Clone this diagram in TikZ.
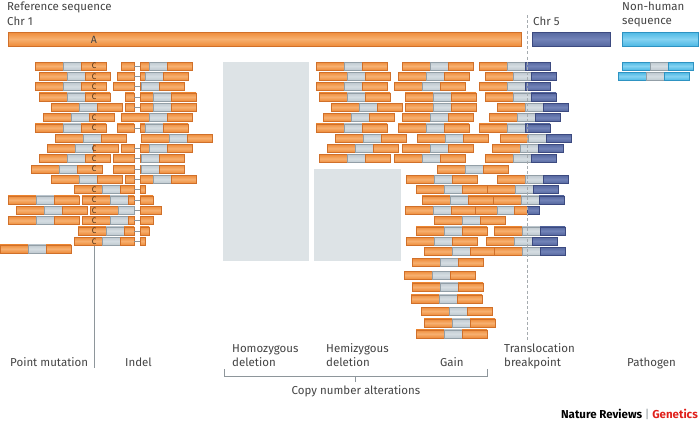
\documentclass[tikz,border=0pt]{standalone}
\usepackage{fontspec}
\setmainfont{Fira Sans}
\definecolor{orT}{HTML}{EE8C3A}
\definecolor{orM}{HTML}{F7B070}
\definecolor{orD}{HTML}{D0702A}
\definecolor{gyT}{HTML}{BFC9D0}
\definecolor{gyM}{HTML}{D5DDE2}
\definecolor{gyD}{HTML}{939FA7}
\definecolor{blT}{HTML}{5668A0}
\definecolor{blM}{HTML}{7283B8}
\definecolor{blD}{HTML}{3C4A80}
\definecolor{cyT}{HTML}{4DB8E4}
\definecolor{cyM}{HTML}{85D3F2}
\definecolor{cyD}{HTML}{2E93C2}
\definecolor{boxc}{HTML}{DDE3E6}
\definecolor{txt}{HTML}{444444}
\definecolor{ngred}{HTML}{E0201B}
\definecolor{cC}{HTML}{4A3018}
\definecolor{lnc}{HTML}{8E969B}
% segment: row, from x, to x, style
\newcommand\sg[4]{\path[#4] ({#2},{62+10.3*(#1)}) rectangle ({#3},{70+10.3*(#1)});}
\newcommand\rdx[4]{\sg{#1}{#2}{#2+28}{#3}\sg{#1}{#2+28}{#2+46}{gry}\sg{#1}{#2+46}{#2+71}{#4}}
\newcommand\rd[2]{\rdx{#1}{#2}{ora}{ora}}
\newcommand\rdt[2]{\rdx{#1}{#2}{ora}{blu}}
\newcommand\rdp[2]{\rdx{#1}{#2}{cya}{cya}}
\newcommand\gp[1]{\draw[con] (134,{66+10.3*(#1)}) -- (140,{66+10.3*(#1)});}
\newcommand\rdA[2]{\sg{#1}{#2}{134}{ora}\sg{#1}{140}{#2+28}{ora}\sg{#1}{#2+28}{#2+46}{gry}\sg{#1}{#2+46}{#2+71}{ora}\gp{#1}}
\newcommand\rdB[2]{\sg{#1}{#2}{#2+28}{ora}\sg{#1}{#2+28}{#2+46}{gry}\sg{#1}{#2+46}{134}{ora}\sg{#1}{140}{#2+71}{ora}\gp{#1}}
\newcommand\cc[1]{\node[cl] (c#1) at (94,{66.2+10.3*(#1)}) {C};}
\begin{document}
\begin{tikzpicture}[x=1pt,y=-1pt,
  ora/.style={draw=orD,line width=0.5pt,top color=orT,bottom color=orT,middle color=orM},
  gry/.style={draw=gyD,line width=0.5pt,top color=gyT,bottom color=gyT,middle color=gyM},
  blu/.style={draw=blD,line width=0.5pt,top color=blT,bottom color=blT,middle color=blM},
  cya/.style={draw=cyD,line width=0.5pt,top color=cyT,bottom color=cyT,middle color=cyM},
  con/.style={draw=lnc,line width=0.5pt},
  cl/.style={inner sep=0pt,text=cC,font=\fontsize{8}{8}\selectfont},
  lbl/.style={inner sep=0pt,text=txt,font=\fontsize{11.5}{13}\selectfont},
  brk/.style={draw=lnc,line width=0.6pt},
  dsh/.style={draw=lnc!80,line width=0.9pt,dash pattern=on 3pt off 2.2pt}]
\useasboundingbox[fill=white] (0,0) rectangle (700,426);
% deletion regions
\path[fill=boxc] (223,62) rectangle (309,261);
\path[fill=boxc] (314,169) rectangle (401,261);
% reference bars
\path[ora] (8,32) rectangle (521,46);
\path[blu] (532,32) rectangle (610,46);
\path[cya] (622,32) rectangle (698,46);
\node[inner sep=0pt,text=txt,font=\fontsize{10.5}{11}\selectfont] (A) at (94,39.5) {A};
% point mutation column
\rd{0}{35}\rd{1}{39}\rd{2}{35}\rd{3}{39}\rd{4}{51}\rd{5}{43}\rd{6}{35}\rd{7}{55}
\rd{8}{47}\rd{9}{39}\rd{10}{31}\rd{11}{51}
\rdB{12}{74}
\rd{13}{8}\rdB{13}{82}
\rd{14}{16}\sg{14}{90}{118}{ora}\sg{14}{118}{134}{gry}\sg{14}{140}{161}{ora}\gp{14}
\rd{15}{8}\rdB{15}{82}
\rdB{16}{78}\rdB{17}{74}
\rd{17.75}{0}
% indel column
\rdA{0}{121}\rdA{1}{117}\rdA{2}{113}\rdA{3}{125}\rdA{4}{125}\rd{5}{121}\rdA{6}{117}
\rd{7}{141}\rdA{8}{121}\rdA{9}{113}\rdA{10}{113}\rdA{11}{125}
% C marks
\cc{0}\cc{1}\cc{2}\cc{3}\cc{5}\cc{6}\cc{8}\cc{9}\cc{10}\cc{12}\cc{13}\cc{14}\cc{15}\cc{16}\cc{17}
% hemizygous column
\rd{0}{316}\rd{1}{319}\rd{2}{316}\rd{3}{319}\rd{4}{331}\rd{5}{323}\rd{6}{316}\rd{7}{335}\rd{8}{327}\rd{9}{319}
% gain column
\rd{0}{402}\rd{1}{398}\rd{2}{394}\rd{3}{405}\rd{4}{405}\rd{5}{402}\rd{6}{398}\rd{7}{417}
\rd{8}{402}\rd{9}{394}\rd{10}{437}\rd{11}{406}\rd{12}{416}\rd{13}{422}\rd{14}{405}\rd{15}{434}
\rd{16}{416}\rd{17}{406}\rd{18}{424}
\rd{19.1}{412}\rd{20.3}{404}\rd{21.45}{412}\rd{22.6}{411}\rd{23.8}{421}\rd{24.95}{424}\rd{26}{416}
% translocation column
\rdt{0}{479}\rdt{1}{485}\rdt{2}{479}\rdt{3}{485}\rdt{4}{497}\rdt{5}{489}\rdt{6}{479}
\rdt{7}{500}\rdt{8}{492}\rdt{9}{485}\rdt{11}{497}\rdt{12}{487}\rdt{13}{493}
\sg{14}{475}{497}{ora}\sg{14}{497}{514}{gry}\sg{14}{514}{527}{ora}\sg{14}{527}{539}{blu}
\rdt{16}{494}\rdt{17}{486}\rdt{18}{494}
% pathogen
\rdp{0}{622}\rdp{1}{618}
% breakpoint line
\coordinate (bpT) at (527,15);
\coordinate (bpB) at (527,340);
\draw[dsh] (bpT) -- (bpB);
% point mutation pointer
\coordinate (pmT) at (94,245.5);
\coordinate (pmB) at (94,368);
\draw[con,line width=0.6pt] (pmT) -- (pmB);
% top labels
\node[lbl,anchor=base west] (refseq) at (7,10.5) {Reference sequence};
\node[lbl,anchor=base west] (chr1) at (7,25) {Chr 1};
\node[lbl,anchor=base west] (chr5) at (533,25) {Chr 5};
\node[lbl,anchor=base west] (nh1) at (622,10.5) {Non-human};
\node[lbl,anchor=base west] (nh2) at (622,24.5) {sequence};
% bottom labels
\node[lbl,anchor=base west] (pm) at (10,366) {Point mutation};
\node[lbl,anchor=base west] (ind) at (125,366) {Indel};
\node[lbl,anchor=base west] (ho1) at (232,352) {Homozygous};
\node[lbl,anchor=base west] (ho2) at (232,366) {deletion};
\node[lbl,anchor=base west] (he1) at (326,352) {Hemizygous};
\node[lbl,anchor=base west] (he2) at (326,366) {deletion};
\node[lbl,anchor=base west] (gain) at (440,366) {Gain};
\node[lbl,anchor=base west] (tr1) at (504,352) {Translocation};
\node[lbl,anchor=base west] (tr2) at (504,366) {breakpoint};
\node[lbl,anchor=base west] (path) at (627,366) {Pathogen};
% bracket
\coordinate (bl) at (224,369);
\coordinate (br) at (487,369);
\coordinate (bm) at (355,376);
\draw[brk] (bl) -- (224,376) -- (487,376) -- (br);
\draw[brk] (bm) -- (355,382);
\node[lbl,anchor=base] (cna) at (356,394) {Copy number alterations};
% credit
\node[inner sep=0pt,anchor=base east,font=\fontsize{11.5}{13}\selectfont\bfseries] (nrg) at (698,418)
  {Nature Reviews {\mdseries\color{lnc}|} {\color{ngred}Genetics}};
\end{tikzpicture}
\end{document}
